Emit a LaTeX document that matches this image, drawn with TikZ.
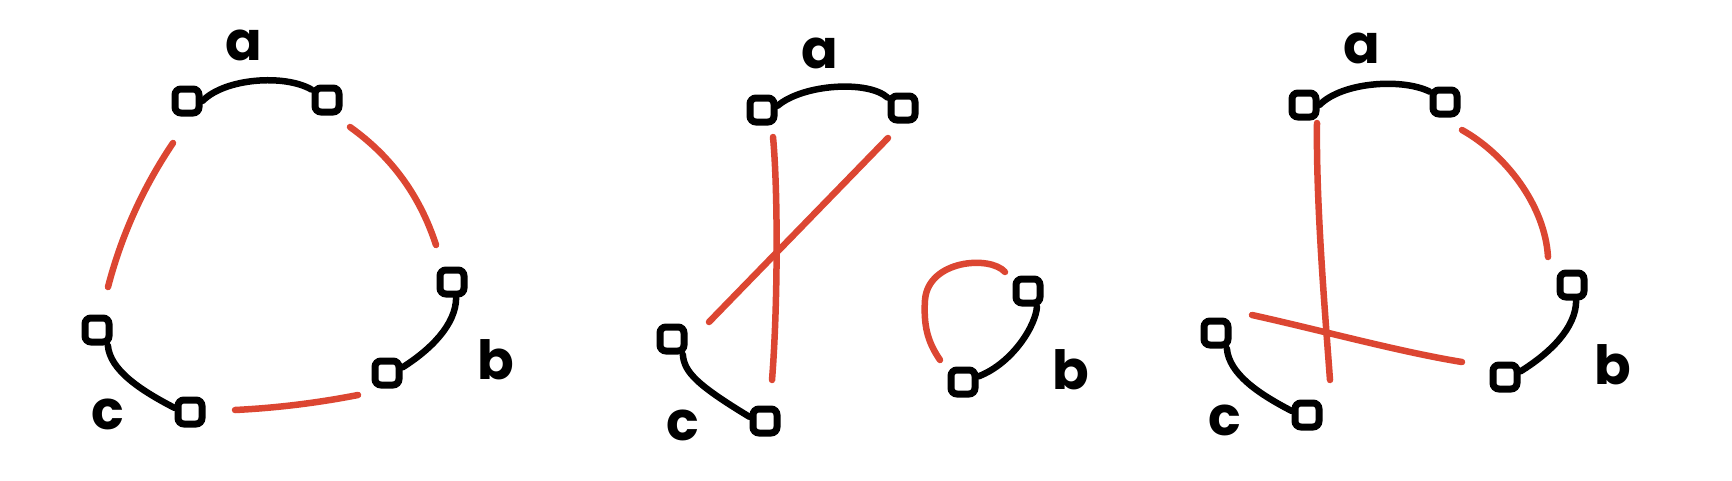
\documentclass[tikz,border=0pt]{standalone}
\usepackage{fontspec}
\setmainfont{Poppins}
\definecolor{inkred}{HTML}{DC4632}
\begin{document}
\begin{tikzpicture}[x=1pt,y=-1pt,
  vtx/.style={draw=black, line width=7pt, rounded corners=6pt, minimum size=24pt, inner sep=0pt, shape=rectangle},
  blk/.style={draw=black, line width=6.5pt, line cap=round},
  redline/.style={draw=inkred, line width=6.5pt, line cap=round},
  lbl/.style={font=\fontsize{54}{54}\selectfont\bfseries, inner sep=0pt}]
\useasboundingbox[fill=white] (0,0) rectangle (1732,480);

% ---------- panel 1 ----------
\node[vtx] (p1a1) at (187,101) {};
\node[vtx] (p1a2) at (327,100) {};
\node[vtx] (p1b1) at (452,282) {};
\node[vtx] (p1b2) at (387,373) {};
\node[vtx] (p1c1) at (97,330) {};
\node[vtx] (p1c2) at (190,412) {};
\node[lbl] (p1la) at (244,45) {a};
\node[lbl] (p1lb) at (496,360) {b};
\node[lbl] (p1lc) at (108,414) {c};
\draw[blk] (p1a1.east) .. controls (225,78) and (285,74) .. (p1a2.146);
\draw[blk] (p1b1.-75) .. controls (456,325) and (430,350) .. (p1b2.20);
\draw[blk] (p1c1.-55) .. controls (110,370) and (140,390) .. (p1c2.165);
\coordinate (p1r1s) at (173,143); \coordinate (p1r1e) at (108,287);
\coordinate (p1r2s) at (350,127); \coordinate (p1r2e) at (436,245);
\coordinate (p1r3s) at (235,410); \coordinate (p1r3e) at (358,395);
\draw[redline] (p1r1s) .. controls (142,189) and (121,237) .. (p1r1e);
\draw[redline] (p1r2s) .. controls (392,157) and (420,196) .. (p1r2e);
\draw[redline] (p1r3s) .. controls (276,408) and (317,403) .. (p1r3e);

% ---------- panel 2 ----------
\node[vtx] (p2a1) at (762,110) {};
\node[vtx] (p2a2) at (903,108) {};
\node[vtx] (p2b1) at (1028,291) {};
\node[vtx] (p2b2) at (963,382) {};
\node[vtx] (p2c1) at (672,339) {};
\node[vtx] (p2c2) at (765,421) {};
\node[lbl] (p2la) at (820,53) {a};
\node[lbl] (p2lb) at (1071,370) {b};
\node[lbl] (p2lc) at (683,425) {c};
\draw[blk] (p2a1.15) .. controls (803,84) and (868,80) .. (p2a2.146);
\draw[blk] (p2c1.-55) .. controls (684,372) and (697,385) .. (p2c2.165);
\draw[blk] (p2b1.-60) .. controls (1036,325) and (1013,363) .. (p2b2.20);
\coordinate (p2r1s) at (773,137); \coordinate (p2r1e) at (772,380);
\coordinate (p2r2s) at (888,138); \coordinate (p2r2e) at (709,322);
\coordinate (p2r3s) at (1005,272); \coordinate (p2r3e) at (940,360);
\draw[redline] (p2r1s) .. controls (778,190) and (778,304) .. (p2r1e);
\draw[redline] (p2r2s) -- (p2r2e);
\draw[redline] (p2r3s) .. controls (990,255) and (928,260) .. (925,300)
                       .. controls (923,330) and (930,345) .. (p2r3e);

% ---------- panel 3 ----------
\node[vtx] (p3a1) at (1304,105) {};
\node[vtx] (p3a2) at (1445,102) {};
\node[vtx] (p3b1) at (1572,285) {};
\node[vtx] (p3b2) at (1505,377) {};
\node[vtx] (p3c1) at (1216,333) {};
\node[vtx] (p3c2) at (1307,415) {};
\node[lbl] (p3la) at (1362,48) {a};
\node[lbl] (p3lb) at (1613,365) {b};
\node[lbl] (p3lc) at (1225,420) {c};
\draw[blk] (p3a1.east) .. controls (1342,82) and (1402,78) .. (p3a2.146);
\draw[blk] (p3b1.-75) .. controls (1576,328) and (1550,353) .. (p3b2.20);
\draw[blk] (p3c1.-55) .. controls (1229,374) and (1259,394) .. (p3c2.165);
\coordinate (p3r1s) at (1317,123); \coordinate (p3r1e) at (1330,380);
\coordinate (p3r2s) at (1252,315); \coordinate (p3r2e) at (1462,362);
\coordinate (p3r3s) at (1462,130); \coordinate (p3r3e) at (1548,257);
\draw[redline] (p3r1s) .. controls (1316,200) and (1324,300) .. (p3r1e);
\draw[redline] (p3r2s) .. controls (1320,330) and (1400,352) .. (p3r2e);
\draw[redline] (p3r3s) .. controls (1505,154) and (1545,205) .. (p3r3e);
\end{tikzpicture}
\end{document}
